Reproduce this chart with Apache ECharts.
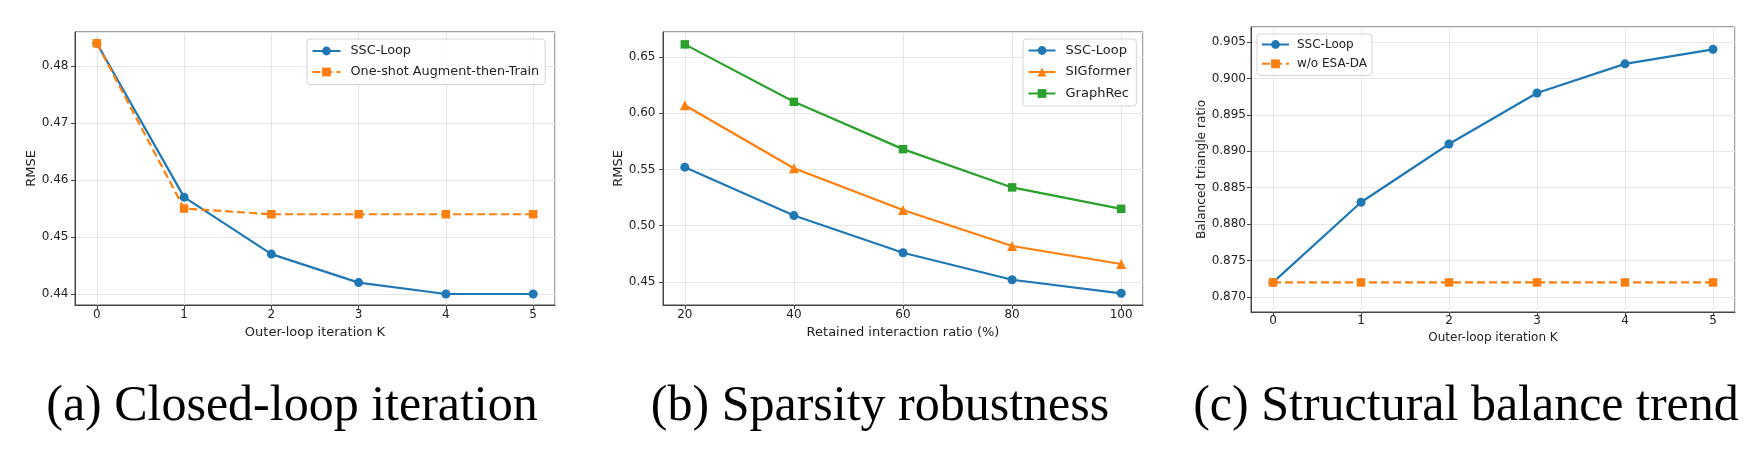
<!DOCTYPE html>
<html><head><meta charset="utf-8">
<script src="https://cdn.jsdelivr.net/npm/echarts@6/dist/echarts.min.js"></script>
<style>html,body{margin:0;padding:0;background:#fff}#c{width:1755px;height:455px}</style>
</head><body><div id="c"></div>
<script>
// ---- data ----
const iterK = [0, 1, 2, 3, 4, 5];
const ratioPct = [20, 40, 60, 80, 100];
const aSscLoop = [0.484, 0.457, 0.447, 0.442, 0.440, 0.440];
const aOneShot = [0.484, 0.455, 0.454, 0.454, 0.454, 0.454];
const bSscLoop = [0.552, 0.509, 0.476, 0.452, 0.440];
const bSigformer = [0.607, 0.551, 0.514, 0.482, 0.466];
const bGraphRec = [0.661, 0.610, 0.568, 0.534, 0.515];
const cSscLoop = [0.872, 0.883, 0.891, 0.898, 0.902, 0.904];
const cWoEsaDa = [0.872, 0.872, 0.872, 0.872, 0.872, 0.872];
const captions = ['(a) Closed-loop iteration', '(b) Sparsity robustness', '(c) Structural balance trend'];
const axisNames = {
  aX: 'Outer-loop iteration K', aY: 'RMSE',
  bX: 'Retained interaction ratio (%)', bY: 'RMSE',
  cX: 'Outer-loop iteration K', cY: 'Balanced triangle ratio'
};

// ---- styling ----
const BLUE = '#1f77b4', ORANGE = '#ff7f0e', GREEN = '#2ca02c';
const FONT = 'DejaVu Sans';
const AX = '#444';
const GRIDC = '#e6e6e6';
const TXT = '#222';

function pairs(xs, ys) { return xs.map((x, i) => [x, ys[i]]); }

function xAxis(gi, min, max, name, fs, nfs, gap, split, margin) {
  return {
    type: 'value', gridIndex: gi, min: min, max: max, splitNumber: split,
    name: name, nameLocation: 'middle', nameGap: gap,
    nameTextStyle: { fontFamily: FONT, fontSize: nfs, color: TXT },
    axisLine: { show: true, onZero: false, lineStyle: { color: AX, width: 1 } },
    axisTick: { show: true, length: 4, lineStyle: { color: AX } },
    axisLabel: { fontFamily: FONT, fontSize: fs, color: TXT, margin: margin, showMinLabel: false, showMaxLabel: false },
    splitLine: { show: true, lineStyle: { color: GRIDC, width: 1 } }
  };
}
function yAxis(gi, min, max, name, fs, nfs, gap, split, dec, margin) {
  return {
    type: 'value', gridIndex: gi, min: min, max: max, splitNumber: split,
    name: name, nameLocation: 'middle', nameGap: gap, nameRotate: 90,
    nameTextStyle: { fontFamily: FONT, fontSize: nfs, color: TXT },
    axisLine: { show: true, onZero: false, lineStyle: { color: AX, width: 1 } },
    axisTick: { show: true, length: 4, lineStyle: { color: AX } },
    axisLabel: { fontFamily: FONT, fontSize: fs, color: TXT, margin: margin, showMinLabel: false, showMaxLabel: false,
      formatter: v => v.toFixed(dec) },
    splitLine: { show: true, lineStyle: { color: GRIDC, width: 1 } }
  };
}
function line(name, gi, data, color, symbol, size, dashed) {
  return {
    type: 'line', name: name, xAxisIndex: gi, yAxisIndex: gi, data: data,
    symbol: symbol, symbolSize: size, showSymbol: true,
    lineStyle: { color: color, width: 2.2, type: dashed ? [8, 4] : 'solid' },
    itemStyle: { color: color },
    emphasis: { disabled: true }, animation: false
  };
}
function legend(left, top, names, fs, gap, pad, iw, textPad) {
  return {
    orient: 'vertical', left: left, top: top, data: names,
    itemWidth: iw, itemHeight: 11, itemGap: gap, padding: pad,
    backgroundColor: 'rgba(255,255,255,0.85)', borderColor: '#d4d4d4', borderWidth: 1, borderRadius: 3,
    textStyle: { fontFamily: FONT, fontSize: fs, color: TXT, padding: [0, 0, 0, textPad] },
    selectedMode: false
  };
}
function caption(text, x) {
  return { type: 'text', x: x, y: 407, style: { text: text, font: '50px "Liberation Serif"', fill: '#000', align: 'center', verticalAlign: 'middle' } };
}

const chart = echarts.init(document.getElementById('c'), null, { renderer: 'canvas' });
chart.setOption({
  backgroundColor: '#fff',
  animation: false,
  grid: [
    { left: 75, top: 32, width: 480, height: 273, show: true, borderColor: AX, borderWidth: 1 },
    { left: 663, top: 32, width: 480, height: 273, show: true, borderColor: AX, borderWidth: 1 },
    { left: 1251, top: 27, width: 484, height: 285, show: true, borderColor: AX, borderWidth: 1 }
  ],
  xAxis: [
    xAxis(0, -0.25, 5.25, axisNames.aX, 12, 13, 18, 6, 4),
    xAxis(1, 16, 104, axisNames.bX, 12, 13, 18, 5, 4),
    xAxis(2, -0.25, 5.25, axisNames.cX, 12, 12, 16, 6, 3)
  ],
  yAxis: [
    yAxis(0, 0.43807, 0.48598, axisNames.aY, 12, 13, 34, 5, 2, 6.5),
    yAxis(1, 0.4296, 0.672, axisNames.bY, 12, 13, 34, 5, 2, 7.5),
    yAxis(2, 0.86794, 0.90706, axisNames.cY, 12, 12.2, 40, 8, 3, 5)
  ],
  legend: [
    legend(307, 39, ['SSC-Loop', 'One-shot Augment-then-Train'], 12.8, 8, [5.5, 6, 6, 4.5], 28, 5),
    legend(1023, 39, ['SSC-Loop', 'SIGformer', 'GraphRec'], 13, 8.5, [5, 5, 6, 4.5], 27, 5),
    legend(1257, 34, ['SSC-Loop', 'w/o ESA-DA'], 12, 7.3, [4.5, 5, 5.5, 4], 27, 3)
  ],
  series: [
    line('SSC-Loop', 0, pairs(iterK, aSscLoop), BLUE, 'circle', 9, false),
    line('One-shot Augment-then-Train', 0, pairs(iterK, aOneShot), ORANGE, 'rect', 8.5, true),
    line('SSC-Loop', 1, pairs(ratioPct, bSscLoop), BLUE, 'circle', 9, false),
    line('SIGformer', 1, pairs(ratioPct, bSigformer), ORANGE, 'triangle', 10, false),
    line('GraphRec', 1, pairs(ratioPct, bGraphRec), GREEN, 'rect', 8.5, false),
    line('SSC-Loop', 2, pairs(iterK, cSscLoop), BLUE, 'circle', 9, false),
    line('w/o ESA-DA', 2, pairs(iterK, cWoEsaDa), ORANGE, 'rect', 8.5, true)
  ],
  graphic: [
    caption(captions[0], 292),
    caption(captions[1], 880),
    caption(captions[2], 1466)
  ]
});
</script>
</body></html>
